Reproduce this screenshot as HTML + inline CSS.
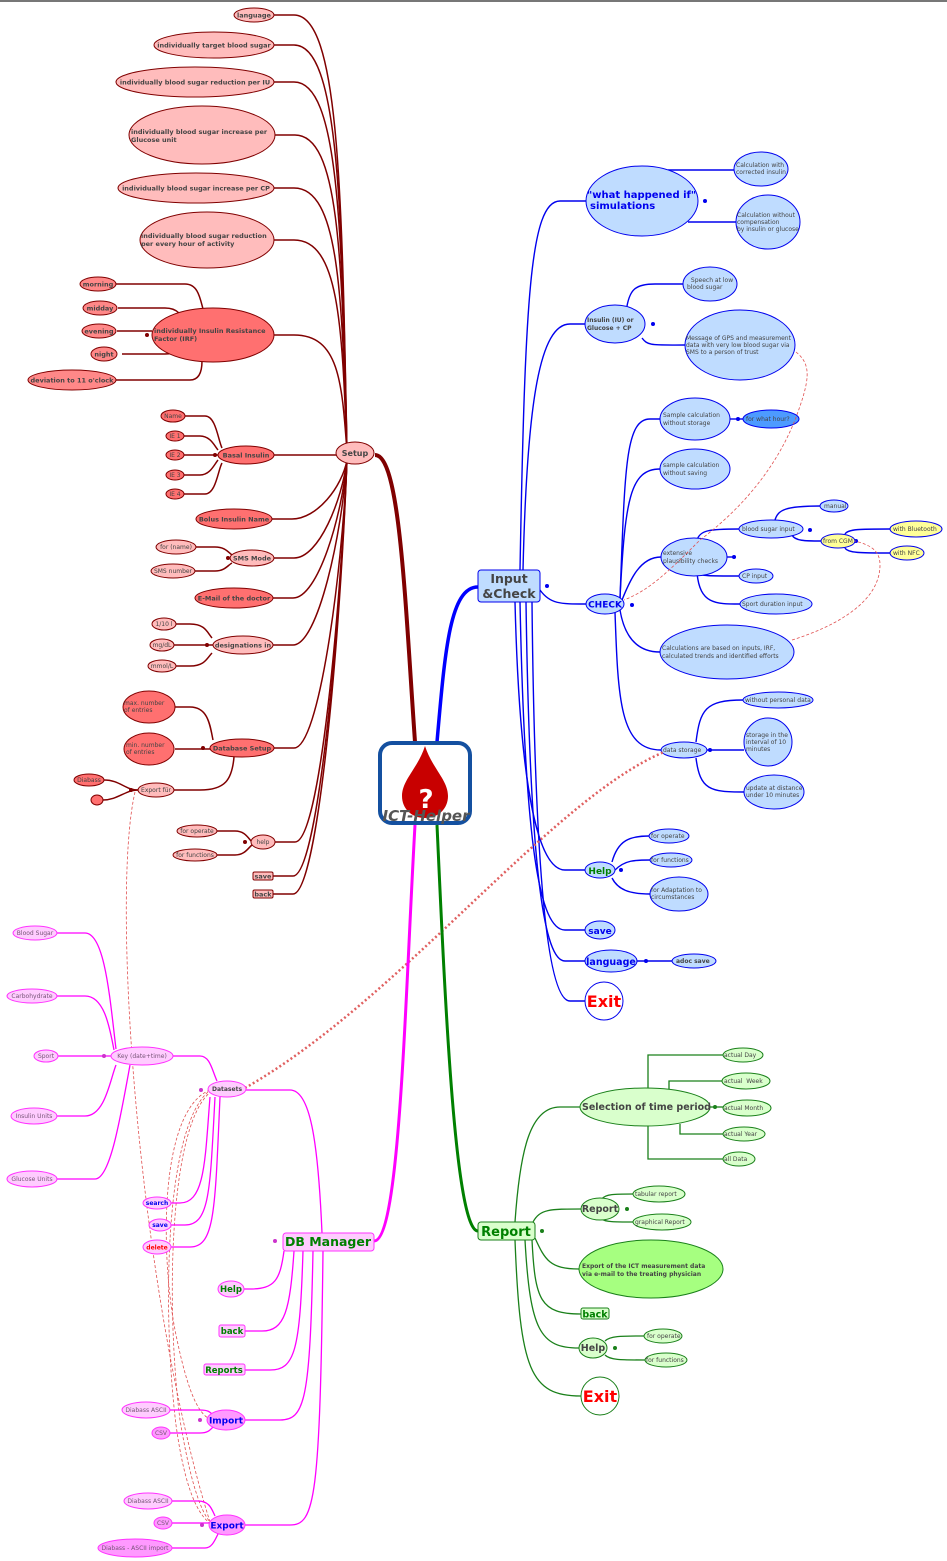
<!DOCTYPE html>
<html><head><meta charset="utf-8">
<style>
html,body{margin:0;padding:0;background:#fff;}
svg{display:block;font-family:"DejaVu Sans","Liberation Sans",sans-serif;}
.s text{fill:#444;}
</style></head>
<body>
<svg width="947" height="1561" viewBox="0 0 947 1561" xmlns="http://www.w3.org/2000/svg">
<line x1="0" y1="1" x2="947" y2="1" stroke="#777" stroke-width="2"/>

<!-- ===== SETUP connectors ===== -->
<g fill="none" stroke="#800000" stroke-width="1.5">
<path d="M274 15h20C339 15 342 190 347 452"/>
<path d="M274 45h20C339 45 342 208 347 452"/>
<path d="M274 82h20C339 82 342 230 347 452"/>
<path d="M275 135h20C340 135 342 262 347 452"/>
<path d="M274 188h20C339 188 342 294 347 452"/>
<path d="M274 240h20C339 240 342 325 347 452"/>
<path d="M274 335h20C339 335 342 382 347 452"/>
<path d="M274 455H337"/>
<path d="M347 460C342 487 317 519 292 519H272"/>
<path d="M347 460C342 500 319 558 294 558H274"/>
<path d="M347 460C342 516 318 598 293 598H273"/>
<path d="M347 460C342 534 318 645 293 645H273"/>
<path d="M347 460C342 575 319 748 294 748H274"/>
<path d="M347 460C340 613 320 842 295 842H275"/>
<path d="M347 460C340 630 318 876 293 876H273"/>
<path d="M347 460C340 640 318 894 293 894H273"/>
<!-- IRF children -->
<path d="M116 284H185C198 284 200 298 203 309"/>
<path d="M118 308H165C172 308 176 310 179 313"/>
<path d="M117 331H152"/>
<path d="M122 354H165C172 354 176 352 180 350"/>
<path d="M116 380H190C200 380 202 370 202 361"/>
<!-- basal children -->
<path d="M185 416H205C216 416 218 440 222 448"/>
<path d="M184 436H200C210 436 214 445 218 450"/>
<path d="M184 455H218"/>
<path d="M184 475H200C210 475 214 465 218 460"/>
<path d="M184 494H205C216 494 218 470 222 463"/>
<!-- SMS -->
<path d="M196 547H215C225 547 228 552 232 555"/>
<path d="M195 571H215C225 571 228 565 232 563"/>
<!-- designations -->
<path d="M176 624H190C205 624 207 632 212 638"/>
<path d="M174 645H213"/>
<path d="M174 666H190C205 666 207 658 212 653"/>
<!-- database -->
<path d="M175 707H190C208 707 210 725 213 740"/>
<path d="M175 749H210"/>
<path d="M234 757C232 780 225 790 200 790H174"/>
<!-- export for -->
<path d="M104 780C120 780 125 790 138 790"/>
<path d="M103 800C118 800 125 790 138 790"/>
<!-- help -->
<path d="M217 831H235C245 831 248 838 252 842"/>
<path d="M217 855H235C245 855 248 848 252 845"/>
</g>
<path d="M375 455C400 455 405 600 415 742" fill="none" stroke="#800000" stroke-width="4"/>
<g fill="#800000"><circle cx="147" cy="335" r="2"/><circle cx="215" cy="455" r="2"/><circle cx="207" cy="645" r="2"/><circle cx="203" cy="748" r="2"/><circle cx="131" cy="790" r="2"/><circle cx="245" cy="842" r="2"/><circle cx="228" cy="558" r="2"/></g>

<!-- SETUP nodes -->
<g class="s" stroke="#800000" stroke-width="1" font-size="6.5" font-weight="bold">
<ellipse cx="254" cy="15" rx="20" ry="7" fill="#ffbcbc"/><text x="254" y="17.5" text-anchor="middle" stroke="none">language</text>
<ellipse cx="214" cy="45" rx="60" ry="13" fill="#ffbcbc"/><text x="214" y="47.5" text-anchor="middle" stroke="none">individually target blood sugar</text>
<ellipse cx="195" cy="82" rx="79" ry="15" fill="#ffbcbc"/><text x="195" y="84.5" text-anchor="middle" stroke="none">individually blood sugar reduction per IU</text>
<ellipse cx="202" cy="135" rx="73" ry="29" fill="#ffbcbc"/><text x="131" y="134" stroke="none">individually blood sugar increase per</text><text x="131" y="142" stroke="none">Glucose unit</text>
<ellipse cx="196" cy="188" rx="78" ry="15" fill="#ffbcbc"/><text x="196" y="190.5" text-anchor="middle" stroke="none">individually blood sugar increase per CP</text>
<ellipse cx="207" cy="240" rx="67" ry="28" fill="#ffbcbc"/><text x="141" y="238" stroke="none">individually blood sugar reduction</text><text x="141" y="246" stroke="none">per every hour of activity</text>
<ellipse cx="213" cy="335" rx="61" ry="27" fill="#ff7070"/><text x="154" y="333" stroke="none">individually Insulin Resistance</text><text x="154" y="341" stroke="none">Factor (IRF)</text>
<ellipse cx="98" cy="284" rx="18" ry="7" fill="#ff8888"/><text x="98" y="286.5" text-anchor="middle" stroke="none">morning</text>
<ellipse cx="100" cy="308" rx="17" ry="7" fill="#ff8888"/><text x="100" y="310.5" text-anchor="middle" stroke="none">midday</text>
<ellipse cx="99" cy="331" rx="17" ry="7" fill="#ff8888"/><text x="99" y="333.5" text-anchor="middle" stroke="none">evening</text>
<ellipse cx="104" cy="354" rx="13" ry="7" fill="#ff8888"/><text x="104" y="356.5" text-anchor="middle" stroke="none">night</text>
<ellipse cx="72" cy="380" rx="44" ry="10" fill="#ff8888"/><text x="72" y="382.5" text-anchor="middle" stroke="none">deviation to 11 o'clock</text>
<ellipse cx="246" cy="455" rx="28" ry="9" fill="#ff7070"/><text x="246" y="457.5" text-anchor="middle" stroke="none">Basal Insulin</text>
<ellipse cx="234" cy="519" rx="38" ry="10" fill="#ff7070"/><text x="234" y="521.5" text-anchor="middle" stroke="none">Bolus Insulin Name</text>
<ellipse cx="252" cy="558" rx="22" ry="8" fill="#ffbcbc"/><text x="252" y="560.5" text-anchor="middle" stroke="none">SMS Mode</text>
<ellipse cx="234" cy="598" rx="39" ry="10" fill="#ff7070"/><text x="234" y="600.5" text-anchor="middle" stroke="none">E-Mail of the doctor</text>
<ellipse cx="243" cy="645" rx="30" ry="9" fill="#ffbcbc"/><text x="243" y="647.5" text-anchor="middle" stroke="none">designations in</text>
<ellipse cx="242" cy="748" rx="32" ry="9" fill="#ff7070"/><text x="242" y="750.5" text-anchor="middle" stroke="none">Database Setup</text>
<rect x="253" y="872" width="20" height="8" rx="1.5" fill="#ffbcbc"/><text x="263" y="878.5" text-anchor="middle" stroke="none">save</text>
<rect x="253" y="890" width="20" height="8" rx="1.5" fill="#ffbcbc"/><text x="263" y="896.5" text-anchor="middle" stroke="none">back</text>
</g>
<g class="s" stroke="#800000" stroke-width="1" font-size="6">
<ellipse cx="173" cy="416" rx="12" ry="6" fill="#ff7070"/><text x="173" y="418" text-anchor="middle" stroke="none">Name</text>
<ellipse cx="175" cy="436" rx="9" ry="5" fill="#ff7070"/><text x="175" y="438" text-anchor="middle" stroke="none">IE 1</text>
<ellipse cx="175" cy="455" rx="9" ry="5" fill="#ff7070"/><text x="175" y="457" text-anchor="middle" stroke="none">IE 2</text>
<ellipse cx="175" cy="475" rx="9" ry="5" fill="#ff7070"/><text x="175" y="477" text-anchor="middle" stroke="none">IE 3</text>
<ellipse cx="175" cy="494" rx="9" ry="5" fill="#ff7070"/><text x="175" y="496" text-anchor="middle" stroke="none">IE 4</text>
<ellipse cx="176" cy="547" rx="20" ry="7" fill="#ffbcbc"/><text x="176" y="549" text-anchor="middle" stroke="none">for (name)</text>
<ellipse cx="173" cy="571" rx="22" ry="7" fill="#ffbcbc"/><text x="173" y="573" text-anchor="middle" stroke="none">SMS number</text>
<ellipse cx="164" cy="624" rx="12" ry="6" fill="#ffbcbc"/><text x="164" y="626" text-anchor="middle" stroke="none">1/10 l</text>
<ellipse cx="162" cy="645" rx="12" ry="6" fill="#ffbcbc"/><text x="162" y="647" text-anchor="middle" stroke="none">mg/dL</text>
<ellipse cx="162" cy="666" rx="14" ry="6" fill="#ffbcbc"/><text x="162" y="668" text-anchor="middle" stroke="none">mmol/L</text>
<ellipse cx="149" cy="707" rx="26" ry="16" fill="#ff7070"/><text x="124" y="705" stroke="none">max. number</text><text x="124" y="712" stroke="none">of entries</text>
<ellipse cx="149" cy="749" rx="25" ry="16" fill="#ff7070"/><text x="126" y="747" stroke="none">min. number</text><text x="126" y="754" stroke="none">of entries</text>
<ellipse cx="156" cy="790" rx="18" ry="7" fill="#ffbcbc"/><text x="156" y="792" text-anchor="middle" stroke="none">Export für</text>
<ellipse cx="89" cy="780" rx="15" ry="6" fill="#ff7070"/><text x="89" y="782" text-anchor="middle" stroke="none">Diabass</text>
<ellipse cx="97" cy="800" rx="6" ry="5" fill="#ff7070"/>
<ellipse cx="263" cy="842" rx="12" ry="7" fill="#ffbcbc"/><text x="263" y="844" text-anchor="middle" stroke="none">help</text>
<ellipse cx="197" cy="831" rx="20" ry="6" fill="#ffbcbc"/><text x="197" y="833" text-anchor="middle" stroke="none">for operate</text>
<ellipse cx="195" cy="855" rx="22" ry="6" fill="#ffbcbc"/><text x="195" y="857" text-anchor="middle" stroke="none">for functions</text>
</g>
<ellipse cx="355" cy="453" rx="19" ry="11" fill="#ffbcbc" stroke="#800000"/><text x="355" y="456" font-size="8" font-weight="bold" fill="#444" text-anchor="middle">Setup</text>

<!-- ===== INPUT & CHECK ===== -->
<path d="M437 742C445 650 450 587 478 587" fill="none" stroke="#0000ff" stroke-width="3.5"/>
<g fill="none" stroke="#0000ee" stroke-width="1.4">
<path d="M520 570C525 300 530 201 560 201H586"/>
<path d="M523 570C527 400 540 324 570 324H585"/>
<path d="M540 590C550 604 560 604 586 604"/>
<path d="M515 602C520 800 540 870 565 870H585"/>
<path d="M520 602C525 850 540 930 565 930H585"/>
<path d="M526 602C530 880 545 961 565 961H585"/>
<path d="M532 602C535 900 550 1001 570 1001H585"/>
<path d="M668 170H734"/><path d="M688 222H736"/>
<path d="M627 306C630 290 635 284 655 284H683"/>
<path d="M642 338C648 346 652 345 685 345"/>
<path d="M620 598C625 470 625 419 650 419H660"/>
<path d="M620 598C625 500 630 469 660 469"/>
<path d="M622 600C630 580 640 557 661 557"/>
<path d="M620 610C625 640 640 652 660 652"/>
<path d="M615 612C618 700 620 750 661 750"/>
<path d="M730 419H743"/>
<path d="M727 557H736"/>
<path d="M697 540C700 530 710 529 739 529"/>
<path d="M697 573C700 576 710 576 739 576"/>
<path d="M697 573C700 604 715 604 740 604"/>
<path d="M775 520C778 510 785 506 820 506"/>
<path d="M792 535C795 541 805 541 821 541"/>
<path d="M845 534C848 529 860 529 890 529"/>
<path d="M845 548C848 553 860 553 890 553"/>
<path d="M696 742C700 710 705 700 743 700"/>
<path d="M706 750H744"/>
<path d="M696 758C700 790 710 792 744 792"/>
<path d="M612 862C618 840 630 836 649 836"/>
<path d="M615 870C625 860 635 860 650 860"/>
<path d="M612 878C618 890 630 894 650 894"/>
<path d="M637 961H672"/>
</g>
<g fill="#0000ee"><circle cx="547" cy="586" r="2"/><circle cx="705" cy="201" r="2"/><circle cx="653" cy="324" r="2"/><circle cx="632" cy="605" r="2"/><circle cx="734" cy="557" r="2"/><circle cx="810" cy="530" r="2"/><circle cx="856" cy="541" r="2"/><circle cx="738" cy="419" r="2"/><circle cx="710" cy="750" r="2"/><circle cx="621" cy="870" r="2"/><circle cx="646" cy="961" r="2"/></g>

<g stroke="#0000ee" stroke-width="1" fill="#bfdcff" font-size="6" >
<ellipse cx="642" cy="201" rx="56" ry="35"/>
<ellipse cx="761" cy="169" rx="27" ry="17"/>
<ellipse cx="768" cy="222" rx="32" ry="27"/>
<ellipse cx="615" cy="324" rx="30" ry="19"/>
<ellipse cx="710" cy="284" rx="27" ry="17"/>
<ellipse cx="740" cy="345" rx="55" ry="35"/>
<ellipse cx="695" cy="419" rx="35" ry="21"/>
<ellipse cx="771" cy="419" rx="28" ry="9" fill="#4d9bff"/>
<ellipse cx="695" cy="469" rx="35" ry="20"/>
<ellipse cx="694" cy="557" rx="33" ry="19"/>
<ellipse cx="771" cy="529" rx="32" ry="9"/>
<ellipse cx="834" cy="506" rx="14" ry="6"/>
<ellipse cx="838" cy="541" rx="17" ry="7" fill="#ffff99"/>
<ellipse cx="916" cy="529" rx="26" ry="8" fill="#ffff99"/>
<ellipse cx="907" cy="553" rx="17" ry="7" fill="#ffff99"/>
<ellipse cx="756" cy="576" rx="17" ry="7"/>
<ellipse cx="776" cy="604" rx="36" ry="10"/>
<ellipse cx="727" cy="652" rx="67" ry="27"/>
<ellipse cx="684" cy="750" rx="23" ry="8"/>
<ellipse cx="778" cy="700" rx="35" ry="8"/>
<ellipse cx="768" cy="742" rx="24" ry="24"/>
<ellipse cx="774" cy="792" rx="30" ry="17"/>
<ellipse cx="605" cy="604" rx="19" ry="10"/>
<ellipse cx="600" cy="870" rx="15" ry="8"/>
<ellipse cx="669" cy="836" rx="20" ry="7"/>
<ellipse cx="671" cy="860" rx="21" ry="7"/>
<ellipse cx="679" cy="894" rx="29" ry="17"/>
<ellipse cx="600" cy="930" rx="15" ry="9"/>
<ellipse cx="611" cy="961" rx="26" ry="11"/>
<ellipse cx="694" cy="961" rx="22" ry="7"/>
<rect x="478" y="570" width="62" height="32" rx="3"/>
</g>
<g font-size="6" fill="#444">
<text x="736" y="167">Calculation with</text><text x="736" y="174">corrected insulin</text>
<text x="737" y="217">Calculation without</text><text x="737" y="224">compensation</text><text x="737" y="231">by insulin or glucose</text>
<text x="689" y="282">&#160;Speech at low</text><text x="687" y="289">blood sugar</text>
<text x="686" y="340">Message of GPS and measurement</text><text x="686" y="347">data with very low blood sugar via</text><text x="686" y="354">SMS to a person of trust</text>
<text x="663" y="417">Sample calculation</text><text x="663" y="425">without storage</text>
<text x="746" y="421">for what hour?</text>
<text x="663" y="467">sample calculation</text><text x="663" y="475">without saving</text>
<text x="663" y="555">extensive</text><text x="663" y="563">plausibility checks</text>
<text x="742" y="531">blood sugar input</text>
<text x="824" y="508">manual</text>
<text x="823" y="543">from CGM</text>
<text x="893" y="531">with Bluetooth</text>
<text x="893" y="555">with NFC</text>
<text x="742" y="578">CP input</text>
<text x="742" y="606">Sport duration input</text>
<text x="662" y="650">Calculations are based on inputs, IRF,</text><text x="662" y="658">calculated trends and identified efforts</text>
<text x="663" y="752">data storage</text>
<text x="745" y="702">without personal data</text>
<text x="746" y="737">storage in the</text><text x="746" y="744">interval of 10</text><text x="746" y="751">minutes</text>
<text x="746" y="790">update at distance</text><text x="746" y="797">under 10 minutes</text>
<text x="651" y="838">for operate</text>
<text x="651" y="862">for functions</text>
<text x="651" y="892">for Adaptation to</text><text x="651" y="899">circumstances</text>
<text x="676" y="963" font-weight="bold">adoc save</text>
<text x="587" y="322" font-weight="bold">Insulin (IU) or</text><text x="587" y="330" font-weight="bold">Glucose + CP</text>
</g>
<text x="587" y="198" font-size="10" font-weight="bold" fill="#0000ee">"what happened if"</text>
<text x="590" y="209" font-size="10" font-weight="bold" fill="#0000ee">simulations</text>
<text x="509" y="583" font-size="12.5" font-weight="bold" fill="#444" text-anchor="middle">Input</text>
<text x="509" y="598" font-size="12.5" font-weight="bold" fill="#444" text-anchor="middle">&amp;Check</text>
<text x="605" y="607.5" font-size="9" font-weight="bold" fill="#0000ee" text-anchor="middle">CHECK</text>
<text x="600" y="874" font-size="9" font-weight="bold" fill="#008000" text-anchor="middle">Help</text>
<text x="600" y="934" font-size="9" font-weight="bold" fill="#0000ee" text-anchor="middle">save</text>
<text x="611" y="965" font-size="9.5" font-weight="bold" fill="#0000ee" text-anchor="middle">language</text>
<circle cx="604" cy="1001" r="19" fill="#fff" stroke="#0000ee"/>
<text x="604" y="1007" font-size="16" font-weight="bold" fill="#ff0000" text-anchor="middle">Exit</text>
<!-- red dashed relations -->
<g fill="none" stroke="#e05050" stroke-width="0.8" stroke-dasharray="3 2">
<path d="M796 352C812 365 810 380 795 420C775 470 740 510 700 540C670 570 650 590 624 600"/>
<path d="M792 640C840 625 880 600 880 565C880 550 870 545 855 541"/>
<path d="M135 792C110 900 140 1300 210 1522"/>
<path d="M210 1090C160 1110 160 1250 175 1330C185 1380 195 1410 208 1418"/>
<path d="M212 1091C170 1120 165 1300 180 1420C190 1480 200 1510 210 1522"/>
<path d="M208 1092C165 1130 162 1310 176 1425C185 1490 198 1515 211 1524"/>
</g>
<path d="M245 1088C400 1000 550 800 664 752" fill="none" stroke="#e06060" stroke-width="2.5" stroke-dasharray="2 2.5"/>

<!-- ===== CENTER ===== -->
<rect x="380" y="743" width="90" height="80" rx="12" fill="#fff" stroke="#1450a0" stroke-width="4"/>
<path d="M425 746C418 768 402 780 402 796C402 809 412 818 425 818C438 818 448 809 448 796C448 780 432 768 425 746Z" fill="#c80000"/>
<text x="426" y="808" font-size="26" font-weight="bold" fill="#fff" text-anchor="middle">?</text>
<text x="426" y="821" font-size="15" font-weight="bold" font-style="italic" fill="#555" text-anchor="middle">ICT-Helper</text>

<!-- ===== REPORT ===== -->
<path d="M437 825C445 1000 455 1231 478 1231" fill="none" stroke="#008000" stroke-width="3"/>
<g fill="none" stroke="#1a801a" stroke-width="1.3">
<path d="M515 1222C520 1150 530 1107 560 1107H580"/>
<path d="M533 1222C540 1209 550 1209 581 1209"/>
<path d="M535 1238C545 1260 550 1269 579 1269"/>
<path d="M532 1240C535 1300 540 1314 581 1314"/>
<path d="M525 1240C530 1330 540 1348 579 1348"/>
<path d="M515 1240C520 1370 530 1396 581 1396"/>
<path d="M648 1089V1055H723"/><path d="M669 1092V1081H722"/><path d="M710 1107H723"/>
<path d="M680 1124V1134H724"/><path d="M648 1126V1159H723"/>
<path d="M602 1199C605 1194 615 1194 633 1194"/>
<path d="M602 1219C605 1222 615 1222 633 1222"/>
<path d="M605 1341C610 1336 620 1336 644 1336"/>
<path d="M605 1355C610 1360 620 1360 645 1360"/>
</g>
<g fill="#1a801a"><circle cx="542" cy="1231" r="2"/><circle cx="715" cy="1107" r="2"/><circle cx="627" cy="1209" r="2"/><circle cx="615" cy="1348" r="2"/></g>
<g stroke="#1a801a" stroke-width="1" fill="#d9ffcc">
<rect x="478" y="1222" width="57" height="18" rx="3"/>
<ellipse cx="645" cy="1107" rx="65" ry="19"/>
<ellipse cx="743" cy="1055" rx="20" ry="7"/>
<ellipse cx="746" cy="1081" rx="24" ry="8"/>
<ellipse cx="747" cy="1108" rx="24" ry="8"/>
<ellipse cx="744" cy="1134" rx="21" ry="7"/>
<ellipse cx="739" cy="1159" rx="16" ry="7"/>
<ellipse cx="600" cy="1209" rx="19" ry="11"/>
<ellipse cx="659" cy="1194" rx="26" ry="8"/>
<ellipse cx="662" cy="1222" rx="29" ry="8"/>
<ellipse cx="651" cy="1269" rx="72" ry="29" fill="#a6ff80"/>
<rect x="581" y="1308" width="28" height="11" rx="2"/>
<ellipse cx="593" cy="1348" rx="14" ry="10"/>
<ellipse cx="663" cy="1336" rx="19" ry="7"/>
<ellipse cx="666" cy="1360" rx="21" ry="7"/>
<circle cx="600" cy="1396" r="19" fill="#fff"/>
</g>
<g font-size="6" fill="#444">
<text x="724" y="1057">actual Day</text><text x="724" y="1083">actual&#160; Week</text><text x="724" y="1110">actual Month</text><text x="724" y="1136">actual Year</text><text x="724" y="1161">all Data</text>
<text x="635" y="1196">tabular report</text><text x="635" y="1224">graphical Report</text>
<text x="647" y="1338">for operate</text><text x="646" y="1362">for functions</text>
<text x="582" y="1268" font-weight="bold">Export of the ICT measurement data</text><text x="582" y="1276" font-weight="bold">via e-mail to the treating physician</text>
</g>
<text x="582" y="1110" font-size="9.5" font-weight="bold" fill="#444">Selection of time period</text>
<text x="506" y="1236" font-size="13" font-weight="bold" fill="#008000" text-anchor="middle">Report</text>
<text x="600" y="1212" font-size="9.5" font-weight="bold" fill="#444" text-anchor="middle">Report</text>
<text x="595" y="1317.5" font-size="9.5" font-weight="bold" fill="#008000" text-anchor="middle">back</text>
<text x="593" y="1351" font-size="9.5" font-weight="bold" fill="#444" text-anchor="middle">Help</text>
<text x="600" y="1402" font-size="16" font-weight="bold" fill="#ff0000" text-anchor="middle">Exit</text>

<!-- ===== DB MANAGER ===== -->
<path d="M415 825C405 1000 400 1241 374 1241" fill="none" stroke="#ff00ff" stroke-width="3"/>
<g fill="none" stroke="#ff00ff" stroke-width="1.3">
<path d="M322 1233C318 1140 310 1090 290 1090H246"/>
<path d="M284 1251C280 1280 275 1289 250 1289H244"/>
<path d="M294 1251C290 1310 285 1331 262 1331H245"/>
<path d="M303 1251C300 1350 295 1370 270 1370H245"/>
<path d="M313 1251C310 1400 305 1420 280 1420H245"/>
<path d="M323 1251C320 1500 315 1525 290 1525H245"/>
<path d="M210 1097C205 1160 205 1203 180 1203H171"/>
<path d="M215 1097C210 1190 210 1225 185 1225H171"/>
<path d="M220 1097C215 1210 215 1247 190 1247H171"/>
<path d="M173 1056H200C210 1056 212 1070 217 1081"/>
<path d="M57 933H85C105 933 110 1000 116 1049"/>
<path d="M57 996H85C105 996 110 1030 114 1050"/>
<path d="M58 1056H111"/>
<path d="M57 1116H85C105 1116 110 1080 116 1065"/>
<path d="M57 1179H95C110 1179 120 1120 130 1065"/>
<path d="M170 1410H200C208 1410 210 1412 212 1414"/>
<path d="M170 1433H200C208 1433 210 1430 213 1427"/>
<path d="M172 1501H198C210 1501 212 1510 215 1516"/>
<path d="M172 1523H209"/>
<path d="M172 1548H205C212 1548 215 1540 218 1534"/>
</g>
<g fill="#cc33cc"><circle cx="201" cy="1090" r="2"/><circle cx="104" cy="1056" r="2"/><circle cx="275" cy="1241" r="2"/><circle cx="200" cy="1420" r="2"/><circle cx="202" cy="1525" r="2"/></g>
<g stroke="#ff33ff" stroke-width="1" fill="#ffccff">
<rect x="283" y="1233" width="91" height="18" rx="3"/>
<ellipse cx="227" cy="1089" rx="19" ry="8"/>
<ellipse cx="142" cy="1056" rx="31" ry="9"/>
<ellipse cx="35" cy="933" rx="22" ry="7"/>
<ellipse cx="32" cy="996" rx="25" ry="7"/>
<ellipse cx="46" cy="1056" rx="12" ry="6"/>
<ellipse cx="34" cy="1116" rx="23" ry="8"/>
<ellipse cx="32" cy="1179" rx="25" ry="8"/>
<ellipse cx="157" cy="1203" rx="14" ry="6"/>
<ellipse cx="160" cy="1225" rx="11" ry="6"/>
<ellipse cx="157" cy="1247" rx="14" ry="7"/>
<ellipse cx="231" cy="1289" rx="13" ry="8"/>
<rect x="219" y="1325" width="26" height="12" rx="2"/>
<rect x="204" y="1364" width="41" height="11" rx="2"/>
<ellipse cx="226" cy="1420" rx="19" ry="10" fill="#ff99ff"/>
<ellipse cx="146" cy="1410" rx="24" ry="8"/>
<ellipse cx="161" cy="1433" rx="9" ry="6" fill="#ff99ff"/>
<ellipse cx="227" cy="1525" rx="18" ry="10" fill="#ff99ff"/>
<ellipse cx="148" cy="1501" rx="24" ry="8"/>
<ellipse cx="163" cy="1523" rx="9" ry="6" fill="#ff99ff"/>
<ellipse cx="135" cy="1548" rx="37" ry="9" fill="#ff99ff"/>
</g>
<g font-size="6" fill="#775577" text-anchor="middle">
<text x="35" y="935">Blood Sugar</text><text x="32" y="998">Carbohydrate</text><text x="46" y="1058">Sport</text>
<text x="34" y="1118">Insulin Units</text><text x="32" y="1181">Glucose Units</text>
<text x="142" y="1058">Key (date+time)</text>
<text x="146" y="1412">Diabass ASCII</text><text x="161" y="1435">CSV</text>
<text x="148" y="1503">Diabass ASCII</text><text x="163" y="1525">CSV</text><text x="135" y="1550">Diabass - ASCII import</text>
<text x="227" y="1091" font-weight="bold" fill="#444">Datasets</text>
<text x="157" y="1205" font-weight="bold" fill="#0000ee">search</text>
<text x="160" y="1227" font-weight="bold" fill="#0000ee">save</text>
<text x="157" y="1249.5" font-weight="bold" fill="#ff0000">delete</text>
</g>
<g font-weight="bold" fill="#008000" text-anchor="middle" font-size="8.5">
<text x="231" y="1292">Help</text><text x="232" y="1334">back</text><text x="224" y="1373">Reports</text>
</g>
<text x="328" y="1246" font-size="12.5" font-weight="bold" fill="#008000" text-anchor="middle">DB Manager</text>
<text x="226" y="1423.5" font-size="9" font-weight="bold" fill="#0000ee" text-anchor="middle">Import</text>
<text x="227" y="1528.5" font-size="9" font-weight="bold" fill="#0000ee" text-anchor="middle">Export</text>
</svg>
</body></html>
